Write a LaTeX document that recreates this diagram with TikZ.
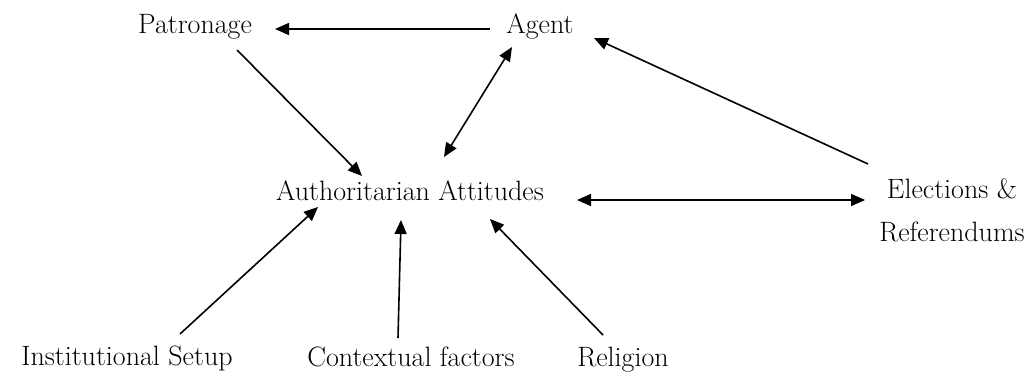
\documentclass[tikz,border=0pt]{standalone}
\usetikzlibrary{arrows.meta}
\begin{document}
\begin{tikzpicture}[x=1pt,y=-1pt,
  lbl/.style={inner sep=0pt,outer sep=0pt,font=\fontsize{28}{43}\selectfont,text=black},
  conn/.style={line width=1.6pt,draw=black,-{Triangle[length=14pt,width=12pt]}},
  conn2/.style={line width=1.6pt,draw=black,{Triangle[length=14pt,width=12pt]}-{Triangle[length=14pt,width=12pt]}}]
\useasboundingbox (0,0) rectangle (1035,375);
\node[lbl,anchor=base] (patr) at (195,33) {Patronage};
\node[lbl,anchor=base] (agent) at (540,33) {Agent};
\node[lbl,anchor=base] (auth) at (410,200) {Authoritarian Attitudes};
\node[lbl,anchor=north,align=center] (elec) at (952,179) {Elections \&\\Referendums};
\node[lbl,anchor=base] (inst) at (127,365) {Institutional Setup};
\node[lbl,anchor=base] (ctx) at (411,366) {Contextual factors};
\node[lbl,anchor=base] (rel) at (623,366) {Religion};
\draw[conn] ([shift={(-50,-4)}]agent.base) -- ([shift={(80,-4)}]patr.base);
\draw[conn] ([shift={(42,17)}]patr.base) -- ([shift={(-48,-24)}]auth.base);
\draw[conn2] ([shift={(-28,14)}]agent.base) -- ([shift={(34,-43)}]auth.base);
\draw[conn] ([shift={(-84,-15)}]elec.north) -- ([shift={(54,5)}]agent.base);
\draw[conn2] ([shift={(167,0)}]auth.base) -- ([shift={(-87,21)}]elec.north);
\draw[conn] ([shift={(53,-31)}]inst.base) -- ([shift={(-92,7)}]auth.base);
\draw[conn] ([shift={(-13,-28)}]ctx.base) -- ([shift={(-9,20)}]auth.base);
\draw[conn] ([shift={(-20,-31)}]rel.base) -- ([shift={(80,19)}]auth.base);
\end{tikzpicture}
\end{document}
